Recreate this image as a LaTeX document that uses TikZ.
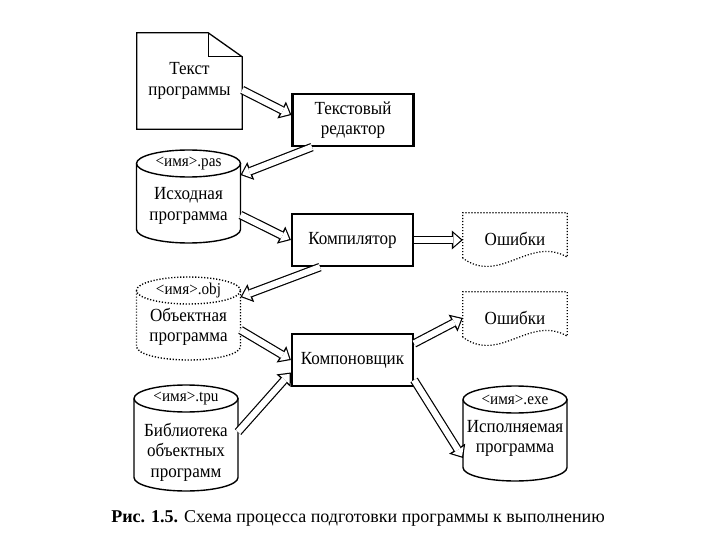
\documentclass[tikz,border=0pt]{standalone}
\usepackage{fontspec}
\setmainfont{Liberation Serif}
\newfontfamily\diagfont{Liberation Serif}[FakeStretch=0.92]
\usetikzlibrary{arrows.meta}

\tikzset{
  proc/.style={draw,line width=2.2pt,minimum width=121pt,minimum height=52pt,align=center},
  store/.style={minimum width=104pt,outer sep=0pt},
  fname/.style={font=\diagfont\fontsize{16.5}{18}\selectfont},
  errs/.style={minimum width=104pt,minimum height=52pt},
  dots/.style={dash pattern=on 1.2pt off 1.8pt},
  flow/.style={line width=8.6pt,-{Triangle[length=11pt,width=19pt,line width=0pt]},
    postaction={draw=white,line width=6.2pt,shorten >=1.9pt,
      -{Triangle[length=7.6pt,width=13.4pt,line width=0pt]}}}
}

\begin{document}
\begin{tikzpicture}[x=1pt,y=-1pt,font=\diagfont\fontsize{18.5}{20.5}\selectfont]
  \useasboundingbox (0,0) rectangle (720,540);
  \fill[white] (0,0) rectangle (720,540);

  % source text page
  \node[minimum width=105pt,minimum height=96pt,align=center] (txt) at (189.5,81) {Текст\\программы};
  \draw[line width=1.3pt] (txt.south west) -- (txt.north west) -- ([xshift=-34pt]txt.north east)
        -- ([yshift=-24pt]txt.north east) -- (txt.south east) -- cycle;
  \draw[line width=1.3pt] ([xshift=-34pt]txt.north east) |- ([yshift=-24pt]txt.north east);

  % programs
  \node[proc] (ed) at (353,120) {Текстовый\\редактор};
  \node[proc] (comp) at (352.5,240) {Компилятор};
  \node[proc] (link) at (352.5,360) {Компоновщик};

  % files
  \node[store,minimum height=93pt] (pas) at (188.5,196.5) {};
  \node[store,minimum height=83pt] (obj) at (188.5,318.5) {};
  \node[store,minimum height=106pt] (tpu) at (186,438) {};
  \node[store,minimum height=95pt] (exe) at (515,433.5) {};
  \foreach \c/\s in {pas/solid,obj/dots,tpu/solid,exe/solid} {
    \draw[line width=1.4pt,\s] ([yshift=-13.5pt]\c.north) ellipse[x radius=52pt,y radius=13.5pt];
    \draw[line width=1.4pt,\s] ([yshift=-13.5pt]\c.north west) -- ([yshift=13.5pt]\c.south west)
        arc[start angle=180,end angle=360,x radius=52pt,y radius=13.5pt] -- ([yshift=-13.5pt]\c.north east);
  }
  \node[fname] (pasname) at ([yshift=-13.5pt]pas.north) {<имя>.pas};
  \node[fname] (objname) at ([yshift=-13.5pt]obj.north) {<имя>.obj};
  \node[fname] (tpuname) at ([yshift=-13.5pt]tpu.north) {<имя>.tpu};
  \node[fname] (exename) at ([yshift=-13.5pt]exe.north) {<имя>.exe};
  \node[align=center] (pastext) at (188.5,206) {Исходная\\программа};
  \node[align=center] (objtext) at (188.5,327) {Объектная\\программа};
  \node[align=center] (tputext) at (186,452) {Библиотека\\объектных\\программ};
  \node[align=center] (exetext) at (515,438.5) {Исполняемая\\программа};

  % errors
  \node[errs] (err1) at (515,239) {Ошибки};
  \node[errs] (err2) at (515,318) {Ошибки};
  \foreach \e in {err1,err2}
    \draw[dots,line width=1.2pt] ([yshift=7pt]\e.south west) -- (\e.north west) -- (\e.north east)
        -- ([yshift=8pt]\e.south east) .. controls ([xshift=-37pt,yshift=30pt]\e.south east)
        and ([xshift=37pt,yshift=-20pt]\e.south west) .. ([yshift=7pt]\e.south west);

  % flows
  \draw[flow] ([yshift=-9pt]txt.east) -- ([yshift=5pt]ed.west);
  \draw[flow] ([xshift=-41pt]ed.south) -- ([yshift=21.5pt]pas.east);
  \draw[flow] ([yshift=-18.5pt]pas.east) -- (comp.west);
  \draw[flow] (comp.east) -- (comp.east -| err1.west);
  \draw[flow] ([xshift=-32.5pt]comp.south) -- ([yshift=21.5pt]obj.east);
  \draw[flow] ([yshift=-11.5pt]obj.east) -- (link.west);
  \draw[flow] ([yshift=16.5pt]link.east) -- (err2.west);
  \draw[flow] ([yshift=6pt]tpu.east) -- ([yshift=-12.5pt]link.west);
  \draw[flow] ([yshift=-20pt]link.east) -- ([yshift=-24.5pt]exe.west);

  \node (cap) at (358,518) {\normalfont\fontsize{18}{20}\selectfont\textbf{Рис. 1.5.} Схема процесса подготовки программы к выполнению};
\end{tikzpicture}
\end{document}
